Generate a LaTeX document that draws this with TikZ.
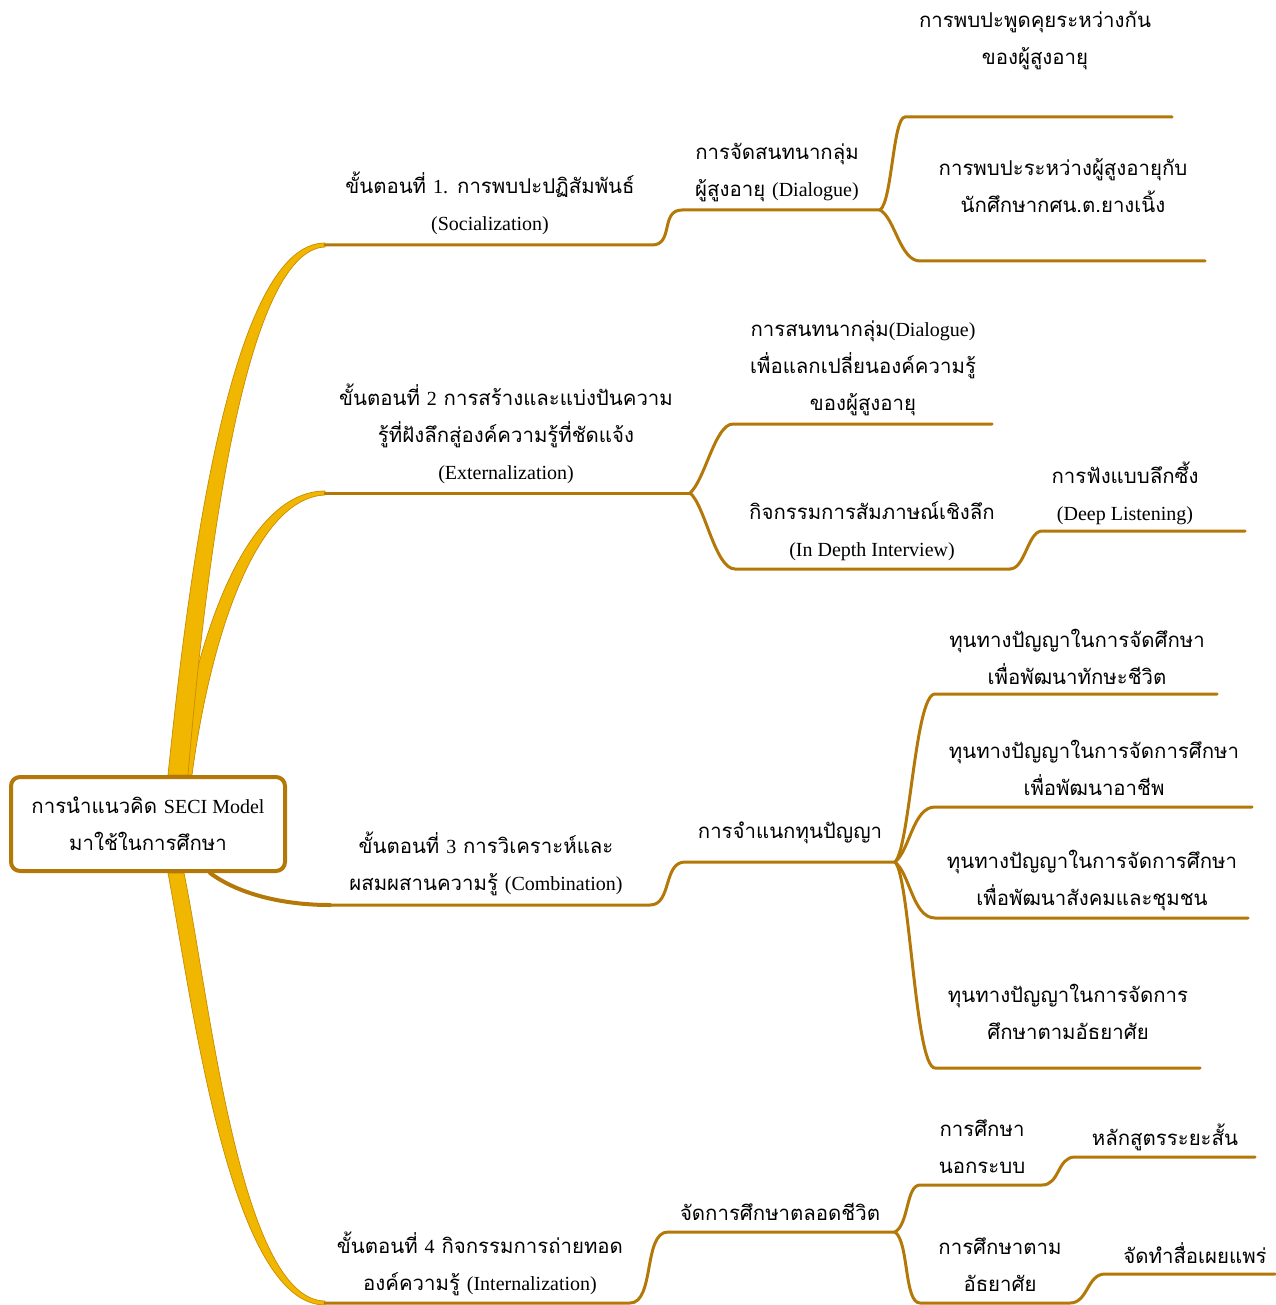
\documentclass[tikz,border=0pt]{standalone}
\usepackage{fontspec}
\setmainfont{Liberation Serif}
\newfontfamily\thaifont[Script=Thai,Scale=1.02]{Loma}
\newfontfamily\latinfont{Liberation Serif}
\newcommand{\lat}[1]{{\latinfont #1}}
\usetikzlibrary{backgrounds}
\definecolor{branchbrown}{RGB}{180,120,8}
\definecolor{trunkgold}{RGB}{240,182,0}
\definecolor{trunkedge}{RGB}{200,140,0}
\tikzset{
  link/.style={draw=branchbrown,line width=3pt,line cap=round},
  trunk/.style={fill=trunkgold,draw=trunkedge,line width=0.7pt},
  topic/.style={align=center,inner sep=0pt,font=\thaifont\fontsize{20}{37}\selectfont},
  root/.style={topic,draw=branchbrown,line width=4pt,rounded corners=9pt,fill=white,
    minimum width=274pt,minimum height=94pt}
}
\begin{document}
\begin{tikzpicture}[x=1pt,y=-1pt]
\useasboundingbox (0,0) rectangle (1275,1305);
\node[root] (seci) at (148,824) {การนำแนวคิด \lat{SECI Model}\\มาใช้ในการศึกษา};

\coordinate (s1a) at (325,245); \coordinate (s1b) at (652,245);
\coordinate (d1a) at (682,210); \coordinate (d1b) at (880,210);
\coordinate (m1a) at (905,117); \coordinate (m1b) at (1172,117);
\coordinate (m2a) at (920,261); \coordinate (m2b) at (1205,261);
\coordinate (s2a) at (325,493); \coordinate (s2b) at (690,493);
\coordinate (d2a) at (733,424); \coordinate (d2b) at (992,424);
\coordinate (iva) at (735,569); \coordinate (ivb) at (1010,569);
\coordinate (dla) at (1042,531); \coordinate (dlb) at (1245,531);
\coordinate (s3a) at (330,905); \coordinate (s3b) at (650,905);
\coordinate (cla) at (685,862); \coordinate (clb) at (895,862);
\coordinate (k1a) at (935,694); \coordinate (k1b) at (1217,694);
\coordinate (k2a) at (935,807); \coordinate (k2b) at (1252,807);
\coordinate (k3a) at (935,918); \coordinate (k3b) at (1248,918);
\coordinate (k4a) at (935,1068); \coordinate (k4b) at (1200,1068);
\coordinate (s4a) at (325,1303); \coordinate (s4b) at (630,1303);
\coordinate (lla) at (668,1232); \coordinate (llb) at (895,1232);
\coordinate (nfa) at (920,1185); \coordinate (nfb) at (1042,1185);
\coordinate (sca) at (1075,1157); \coordinate (scb) at (1255,1157);
\coordinate (infa) at (920,1303); \coordinate (infb) at (1070,1303);
\coordinate (mda) at (1105,1274); \coordinate (mdb) at (1275,1274);

\begin{scope}[on background layer]
\filldraw[trunk] ([xshift=28pt]seci.north) .. controls (195,640) and (245,491) .. ([yshift=2pt]s2a)
  -- ([yshift=-2pt]s2a) .. controls (255,498) and (210,640) .. ([xshift=44pt]seci.north) -- cycle;
\filldraw[trunk] ([xshift=20pt]seci.north) .. controls (190,560) and (232,243) .. ([yshift=2pt]s1a)
  -- ([yshift=-2pt]s1a) .. controls (245,250) and (206,560) .. ([xshift=40pt]seci.north) -- cycle;
\filldraw[trunk] ([xshift=20pt]seci.south) .. controls (192,1000) and (230,1305) .. ([yshift=-2pt]s4a)
  -- ([yshift=2pt]s4a) .. controls (240,1300) and (210,1000) .. ([xshift=36pt]seci.south) -- cycle;
\draw[link,line width=4pt] ([xshift=62pt]seci.south) .. controls (240,895) and (285,905) .. (s3a);
\end{scope}

\draw[link] (s1a) -- (s1b) .. controls +(22,0) and +(-22,0) .. (d1a) -- (d1b);
\draw[link] (d1b) .. controls +(12,-8) and +(-12,0) .. (m1a) -- (m1b);
\draw[link] (d1b) .. controls +(15,8) and +(-20,0) .. (m2a) -- (m2b);
\draw[link] (s2a) -- (s2b);
\draw[link] (s2b) .. controls +(15,-13) and +(-18,0) .. (d2a) -- (d2b);
\draw[link] (s2b) .. controls +(15,12) and +(-20,0) .. (iva) -- (ivb);
\draw[link] (ivb) .. controls +(15,0) and +(-14,0) .. (dla) -- (dlb);
\draw[link] (s3a) -- (s3b) .. controls +(22,0) and +(-22,0) .. (cla) -- (clb);
\draw[link] (clb) .. controls +(15,-15) and +(-20,0) .. (k1a) -- (k1b);
\draw[link] (clb) .. controls +(15,-12) and +(-22,0) .. (k2a) -- (k2b);
\draw[link] (clb) .. controls +(15,12) and +(-22,0) .. (k3a) -- (k3b);
\draw[link] (clb) .. controls +(15,15) and +(-20,0) .. (k4a) -- (k4b);
\draw[link] (s4a) -- (s4b) .. controls +(25,0) and +(-25,0) .. (lla) -- (llb);
\draw[link] (llb) .. controls +(14,-8) and +(-14,0) .. (nfa) -- (nfb) .. controls +(18,0) and +(-18,0) .. (sca) -- (scb);
\draw[link] (llb) .. controls +(14,10) and +(-16,0) .. (infa) -- (infb) .. controls +(18,0) and +(-18,0) .. (mda) -- (mdb);

\node[topic] (s1) at (490,203) {ขั้นตอนที่ \lat{1.} การพบปะปฏิสัมพันธ์\\\lat{(Socialization)}};
\node[topic] (d1) at (777,173) {การจัดสนทนากลุ่ม\\ผู้สูงอายุ \lat{(Dialogue)}};
\node[topic] (m1) at (1035,41) {การพบปะพูดคุยระหว่างกัน\\ของผู้สูงอายุ};
\node[topic] (m2) at (1063,186) {การพบปะระหว่างผู้สูงอายุกับ\\นักศึกษากศน.ต.ยางเนิ้ง};
\node[topic] (s2) at (506,434) {ขั้นตอนที่ \lat{2} การสร้างและแบ่งปันความ\\รู้ที่ฝังลึกสู่องค์ความรู้ที่ชัดแจ้ง\\\lat{(Externalization)}};
\node[topic] (d2) at (863,368) {การสนทนากลุ่ม\lat{(Dialogue)}\\เพื่อแลกเปลี่ยนองค์ความรู้\\ของผู้สูงอายุ};
\node[topic] (iv) at (872,531) {กิจกรรมการสัมภาษณ์เชิงลึก\\\lat{(In Depth Interview)}};
\node[topic] (dl) at (1125,493) {การฟังแบบลึกซึ้ง\\\lat{(Deep Listening)}};
\node[topic] (s3) at (486,864) {ขั้นตอนที่ \lat{3} การวิเคราะห์และ\\ผสมผสานความรู้ \lat{(Combination)}};
\node[topic] (cl) at (790,833) {การจำแนกทุนปัญญา};
\node[topic] (k1) at (1077,657) {ทุนทางปัญญาในการจัดศึกษา\\เพื่อพัฒนาทักษะชีวิต};
\node[topic] (k2) at (1094,768) {ทุนทางปัญญาในการจัดการศึกษา\\เพื่อพัฒนาอาชีพ};
\node[topic] (k3) at (1092,880) {ทุนทางปัญญาในการจัดการศึกษา\\เพื่อพัฒนาสังคมและชุมชน};
\node[topic] (k4) at (1068,1012) {ทุนทางปัญญาในการจัดการ\\ศึกษาตามอัธยาศัย};
\node[topic] (s4) at (480,1264) {ขั้นตอนที่ \lat{4} กิจกรรมการถ่ายทอด\\องค์ความรู้ \lat{(Internalization)}};
\node[topic] (ll) at (780,1212) {จัดการศึกษาตลอดชีวิต};
\node[topic] (nf) at (982,1147) {การศึกษา\\นอกระบบ};
\node[topic] (sc) at (1165,1137) {หลักสูตรระยะสั้น};
\node[topic] (inf) at (1000,1265) {การศึกษาตาม\\อัธยาศัย};
\node[topic] (md) at (1195,1253) {จัดทำสื่อเผยแพร่};
\end{tikzpicture}
\end{document}
